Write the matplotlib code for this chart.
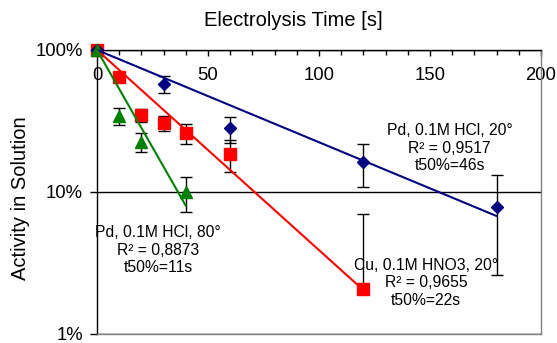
import numpy as np
import matplotlib
matplotlib.use('Agg')
import matplotlib.pyplot as plt
from matplotlib.ticker import FixedLocator, FuncFormatter, MultipleLocator, NullLocator

plt.rcParams['font.family'] = ['Liberation Sans', 'DejaVu Sans']

# Pd, 0.1M HCl, 20°
t_pd20 = [0, 30, 60, 120, 180]
act_pd20 = [100, 57.6, 28.1, 16.3, 7.9]
err_pd20 = [0, 7.6, 5.8, 5.5, 5.3]

# Cu, 0.1M HNO3, 20°
t_cu20 = [0, 10, 20, 30, 40, 60, 120]
act_cu20 = [100, 64.2, 34.8, 30.8, 25.9, 18.5, 2.07]
err_cu20 = [0, 0, 3.6, 3.7, 4.2, 4.7, 4.9]

# Pd, 0.1M HCl, 80°
t_pd80 = [0, 10, 20, 40]
act_pd80 = [100, 34.3, 22.6, 10.0]
err_pd80 = [0, 4.7, 3.5, 2.75]

names = ['Pd, 0.1M HCl, 20°', 'Cu, 0.1M HNO3, 20°', 'Pd, 0.1M HCl, 80°']
r2_text = ['0,9517', '0,9655', '0,8873']
t50_text = ['46s', '22s', '11s']
# where each fit label sits (time, activity)
label_pos = [(158.8, 20.4), (148.2, 2.29), (27.5, 3.9)]

series = [
    (t_cu20, act_cu20, err_cu20, '#ff0000', 's', 9),
    (t_pd20, act_pd20, err_pd20, '#000080', 'D', 6.6),
    (t_pd80, act_pd80, err_pd80, '#008000', '^', 9),
]

fig = plt.figure(figsize=(5.57, 3.43), dpi=100)
ax = fig.add_axes([97 / 557, 1 - 334 / 343, 444 / 557, 284 / 343])

for t, a, e, col, mk, ms in series:
    t = np.array(t, float)
    a = np.array(a, float)
    e = np.array(e, float)
    m = e > 0
    lo = np.where(e[m] < a[m], e[m], 0)
    ax.errorbar(t[m], a[m], yerr=[lo, e[m]], fmt='none', ecolor='black',
                elinewidth=1, capsize=4.3, capthick=1, zorder=2, clip_on=False)
    ax.plot(t, a, linestyle='none', marker=mk, ms=ms, color=col,
            markeredgecolor=col, zorder=3, clip_on=False)
    # exponential trend through 100% at t=0
    k = -np.sum(t * np.log(a / 100)) / np.sum(t ** 2)
    tt = np.linspace(0, t.max(), 50)
    ax.plot(tt, 100 * np.exp(-k * tt), color=col, lw=1.5, zorder=4, clip_on=False)

for name, r2, t50, (x, y) in zip(names, r2_text, t50_text, label_pos):
    ax.text(x, y, f'{name}\nR² = {r2}\nt50%={t50}', ha='center', va='center',
            multialignment='center', linespacing=1.22, fontsize=11.3, zorder=5)

ax.set_yscale('log')
ax.set_xlim(0, 200)
ax.set_ylim(1, 100)

ax.xaxis.set_major_locator(MultipleLocator(50))
ax.xaxis.set_minor_locator(MultipleLocator(10))
ax.yaxis.set_major_locator(FixedLocator([1, 10, 100]))
ax.yaxis.set_minor_locator(NullLocator())
ax.yaxis.set_major_formatter(FuncFormatter(lambda v, p: f'{v:g}%'))

# x axis sits at the top, labels hang below it
ax.spines['bottom'].set_position(('axes', 1))
ax.spines['top'].set_position(('axes', 0))
ax.spines['bottom'].set_color('black')
ax.spines['left'].set_color('black')
ax.spines['top'].set_color('#808080')
ax.spines['right'].set_color('#808080')
for s in ax.spines.values():
    s.set_linewidth(1)

ax.tick_params(axis='x', which='major', direction='out', length=4.5, width=1,
               pad=8, labelsize=13.3)
ax.tick_params(axis='x', which='minor', direction='out', length=3.5, width=1)
ax.tick_params(axis='y', which='major', direction='out', length=5, width=1,
               pad=5, labelsize=13.3)

ax.set_axisbelow(True)
ax.grid(axis='y', which='major', color='black', lw=1)

ax.set_ylabel('Activity in Solution', fontsize=14.5)
ax.yaxis.set_label_coords(-0.151, 0.479)
fig.text(293 / 557, 1 - 21 / 343, 'Electrolysis Time [s]', ha='center', va='center',
         fontsize=14.5)

fig.savefig('out.png', dpi=100)
